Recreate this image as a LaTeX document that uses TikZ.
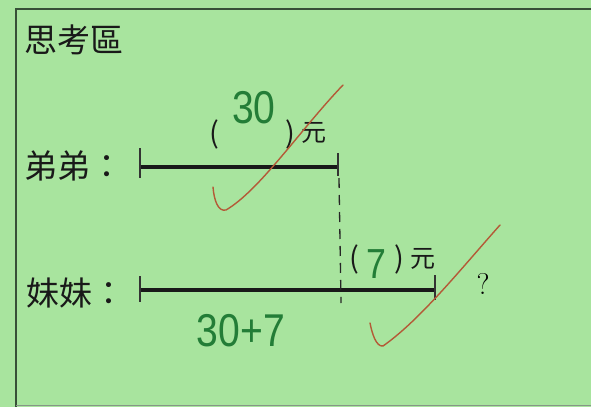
\documentclass[tikz,border=0pt]{standalone}
\usepackage{fontspec}
\newfontfamily\cjk{Noto Sans CJK TC}
\newfontfamily\hand{Liberation Sans}
\definecolor{paper}{RGB}{168,228,158}
\definecolor{framec}{RGB}{55,80,55}
\definecolor{pen}{RGB}{35,125,55}
\definecolor{redpen}{RGB}{180,90,55}
\tikzset{
  lbl/.style={font=\cjk\fontsize{33}{33}\selectfont, inner sep=0pt, text=black!90},
  small/.style={font=\cjk\fontsize{25}{25}\selectfont, inner sep=0pt, text=black!90},
  paren/.style={font=\cjk\fontsize{29}{29}\selectfont, inner sep=0pt, text=black!90},
  hw/.style={font=\hand\fontsize{46}{46}\selectfont, inner sep=0pt, text=pen, transform shape, xscale=0.85},
  bar/.style={line width=3.6pt, black!90},
  tickline/.style={line width=1.1pt, black!80},
  dashline/.style={line width=1.3pt, black!85, dash pattern=on 10pt off 7pt},
  check/.style={line width=1.4pt, redpen, line cap=round, line join=round},
}
\begin{document}
\begin{tikzpicture}[x=1pt,y=-1pt]
\fill[paper] (0,0) rectangle (591,407);
\useasboundingbox (0,0) rectangle (591,407);
% frame
\draw[framec, line width=1.3pt] (591,9) -- (16,9) -- (16,407);
\draw[framec!60, line width=1pt] (16,405) -- (591,405);
% title and labels
\node[lbl, anchor=west] (title) at (24,40) {思考區};
\node[lbl, anchor=west] (brother) at (24,166) {弟弟：};
\node[lbl, anchor=west] (sister) at (26,293) {妹妹：};
% top bar
\coordinate (a1) at (140,167);
\coordinate (a2) at (338,167);
\draw[bar] (a1) -- (a2);
\draw[tickline] (140,148) -- (140,178);
\draw[tickline] (338,153) -- (338,176);
% bottom bar
\coordinate (b1) at (140,290);
\coordinate (b2) at (435,290);
\draw[bar] (b1) -- (b2);
\draw[tickline] (140,276) -- (140,302);
\draw[tickline] (435,275) -- (435,300);
% dashed link
\coordinate (d1) at (339,178);
\coordinate (d2) at (341,303);
\draw[dashline] (d1) -- (d2);
% (30) yuan
\node[paren] (p1) at (214,134) {(};
\node[hw] (n30) at (254,108) {30};
\node[paren] (p2) at (290,134) {)};
\node[small] (y1) at (314,133) {元};
% (7) yuan
\node[paren] (p3) at (354,259) {(};
\node[hw, font=\hand\fontsize{42}{42}\selectfont] (n7) at (376,264) {7};
\node[paren] (p4) at (399,259) {)};
\node[small] (y2) at (423,259) {元};
% question mark
\node[font=\fontsize{30}{30}\selectfont, inner sep=0pt] (q) at (483,284) {?};
% handwritten sum
\node[hw, font=\hand\fontsize{46}{46}\selectfont] (sum) at (241,331) {30+7};
% red checks
\draw[check] (213,187) .. controls (214,200) and (218,212) .. (226,210)
  .. controls (260,190) and (300,130) .. (343,85);
\draw[check] (370,323) .. controls (372,333) and (376,347) .. (383,346)
  .. controls (420,320) and (460,270) .. (500,225);
\end{tikzpicture}
\end{document}
